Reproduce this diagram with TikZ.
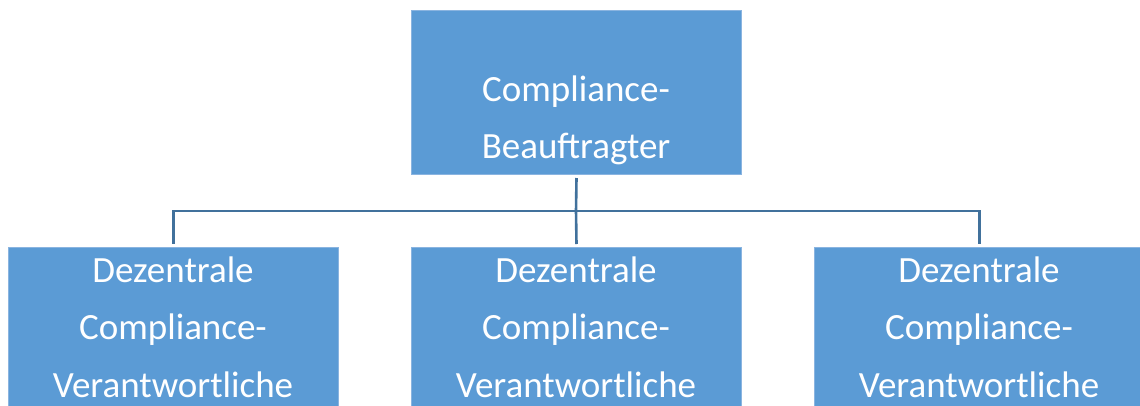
\documentclass[tikz,border=0pt]{standalone}
\usepackage{fontspec}
\setmainfont{Carlito}
\begin{document}
\begin{tikzpicture}[x=1pt,y=-1pt,
  box/.style={draw=boxedge,line width=1pt,fill=boxfill,rectangle,inner sep=0pt,minimum width=330pt,anchor=north west},
  lbl/.style={text=white,anchor=base,inner sep=0pt,font=\fontsize{37}{44}\selectfont},
  conn/.style={draw=connblue,line width=2.6pt}]
\definecolor{boxfill}{HTML}{5B9BD5}
\definecolor{boxedge}{HTML}{8AB4E0}
\definecolor{connblue}{HTML}{41719C}
\useasboundingbox (0,0) rectangle (1140,405);
\clip (0,0) rectangle (1140,405);
\node[box,minimum height=164pt] (top) at (411,10) {};
\node[box,minimum height=170pt] (b1) at (8,247) {};
\node[box,minimum height=170pt] (b2) at (411,247) {};
\node[box,minimum height=170pt] (b3) at (814,247) {};
\coordinate (bus) at (576,211);
\draw[conn] ([yshift=-3pt]top.south) -- (bus);
\draw[conn] (bus) -| ([yshift=3pt]b1.north);
\draw[conn] (bus) -- ([yshift=3pt]b2.north);
\draw[conn] (bus) -| ([yshift=3pt]b3.north);
\node[lbl] (t1) at (576,101) {Compliance-};
\node[lbl] (t2) at (576,158) {Beauftragter};
\foreach \n/\x in {1/173,2/576,3/979}{
  \node[lbl] (d\n) at (\x,282) {Dezentrale};
  \node[lbl] (c\n) at (\x,339) {Compliance-};
  \node[lbl] (v\n) at (\x,397) {Verantwortliche};
}
\end{tikzpicture}
\end{document}
